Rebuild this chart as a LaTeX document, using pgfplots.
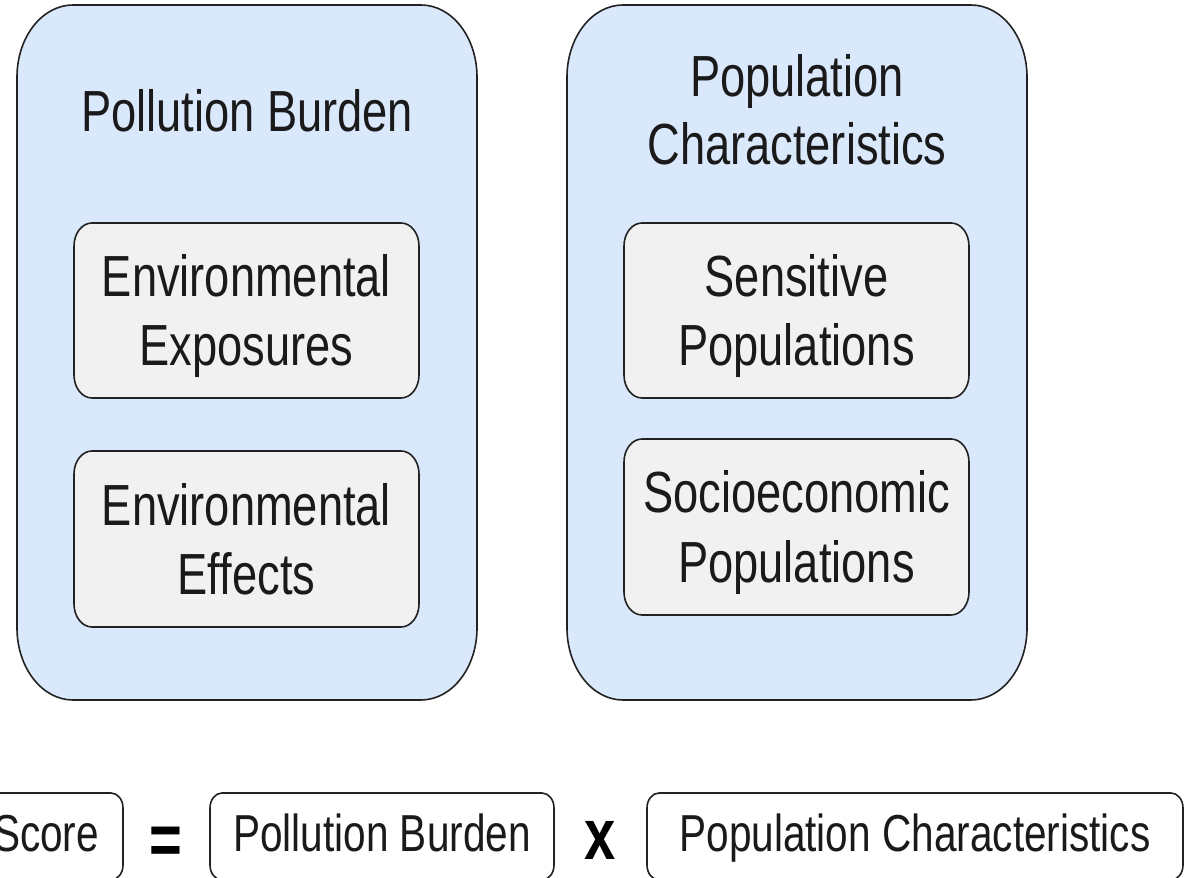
\documentclass[border=0pt]{standalone}
\usepackage{fontspec}
\setmainfont{Liberation Sans}[FakeStretch=0.78]
\usepackage{pgfplots}
\pgfplotsset{compat=1.18}
\definecolor{outerfill}{HTML}{DAE8FC}
\definecolor{innerfill}{HTML}{F1F1F1}
\definecolor{txt}{HTML}{1A1A1A}
\definecolor{edge}{HTML}{222222}
\tikzset{
  big/.style={anchor=base,inner sep=0pt,font=\fontsize{58}{70}\selectfont,text=txt},
  mid/.style={anchor=base,inner sep=0pt,font=\fontsize{52}{62}\selectfont,text=txt},
  op/.style={anchor=base,inner sep=0pt,font=\fontsize{72}{80}\selectfont\bfseries,text=black},
}
\begin{document}
\begin{tikzpicture}
\begin{axis}[width=1184pt,height=878pt,scale only axis,
  xmin=0,xmax=1184,ymin=0,ymax=878,hide axis,clip=true]
% outer boxes
\draw[edge,line width=1.6pt,fill=outerfill]
  (axis cs:73,873) -- (axis cs:421,873) arc[start angle=90,end angle=0,x radius=56pt,y radius=72pt]
  -- (axis cs:477,250) arc[start angle=0,end angle=-90,x radius=56pt,y radius=72pt]
  -- (axis cs:73,178) arc[start angle=-90,end angle=-180,x radius=56pt,y radius=72pt]
  -- (axis cs:17,801) arc[start angle=180,end angle=90,x radius=56pt,y radius=72pt] -- cycle;
\draw[edge,line width=1.6pt,fill=outerfill]
  (axis cs:623,873) -- (axis cs:971,873) arc[start angle=90,end angle=0,x radius=56pt,y radius=72pt]
  -- (axis cs:1027,250) arc[start angle=0,end angle=-90,x radius=56pt,y radius=72pt]
  -- (axis cs:623,178) arc[start angle=-90,end angle=-180,x radius=56pt,y radius=72pt]
  -- (axis cs:567,801) arc[start angle=180,end angle=90,x radius=56pt,y radius=72pt] -- cycle;
% inner boxes
\draw[edge,line width=1.6pt,fill=innerfill]
  (axis cs:92,655) -- (axis cs:401,655) arc[start angle=90,end angle=0,x radius=18pt,y radius=23pt]
  -- (axis cs:419,503) arc[start angle=0,end angle=-90,x radius=18pt,y radius=23pt]
  -- (axis cs:92,480) arc[start angle=-90,end angle=-180,x radius=18pt,y radius=23pt]
  -- (axis cs:74,632) arc[start angle=180,end angle=90,x radius=18pt,y radius=23pt] -- cycle;
\draw[edge,line width=1.6pt,fill=innerfill]
  (axis cs:92,427) -- (axis cs:401,427) arc[start angle=90,end angle=0,x radius=18pt,y radius=23pt]
  -- (axis cs:419,274) arc[start angle=0,end angle=-90,x radius=18pt,y radius=23pt]
  -- (axis cs:92,251) arc[start angle=-90,end angle=-180,x radius=18pt,y radius=23pt]
  -- (axis cs:74,404) arc[start angle=180,end angle=90,x radius=18pt,y radius=23pt] -- cycle;
\draw[edge,line width=1.6pt,fill=innerfill]
  (axis cs:642,655) -- (axis cs:951,655) arc[start angle=90,end angle=0,x radius=18pt,y radius=23pt]
  -- (axis cs:969,503) arc[start angle=0,end angle=-90,x radius=18pt,y radius=23pt]
  -- (axis cs:642,480) arc[start angle=-90,end angle=-180,x radius=18pt,y radius=23pt]
  -- (axis cs:624,632) arc[start angle=180,end angle=90,x radius=18pt,y radius=23pt] -- cycle;
\draw[edge,line width=1.6pt,fill=innerfill]
  (axis cs:642,439) -- (axis cs:951,439) arc[start angle=90,end angle=0,x radius=18pt,y radius=23pt]
  -- (axis cs:969,286) arc[start angle=0,end angle=-90,x radius=18pt,y radius=23pt]
  -- (axis cs:642,263) arc[start angle=-90,end angle=-180,x radius=18pt,y radius=23pt]
  -- (axis cs:624,416) arc[start angle=180,end angle=90,x radius=18pt,y radius=23pt] -- cycle;
% bottom boxes
\draw[edge,line width=1.6pt,fill=white]
  (axis cs:-19,85) -- (axis cs:111,85) arc[start angle=90,end angle=0,x radius=12pt,y radius=15pt]
  -- (axis cs:123,13) arc[start angle=0,end angle=-90,x radius=12pt,y radius=15pt]
  -- (axis cs:-19,-2) arc[start angle=-90,end angle=-180,x radius=12pt,y radius=15pt]
  -- (axis cs:-31,70) arc[start angle=180,end angle=90,x radius=12pt,y radius=15pt] -- cycle;
\draw[edge,line width=1.6pt,fill=white]
  (axis cs:222,85) -- (axis cs:542,85) arc[start angle=90,end angle=0,x radius=12pt,y radius=15pt]
  -- (axis cs:554,13) arc[start angle=0,end angle=-90,x radius=12pt,y radius=15pt]
  -- (axis cs:222,-2) arc[start angle=-90,end angle=-180,x radius=12pt,y radius=15pt]
  -- (axis cs:210,70) arc[start angle=180,end angle=90,x radius=12pt,y radius=15pt] -- cycle;
\draw[edge,line width=1.6pt,fill=white]
  (axis cs:659,85) -- (axis cs:1171,85) arc[start angle=90,end angle=0,x radius=12pt,y radius=15pt]
  -- (axis cs:1183,13) arc[start angle=0,end angle=-90,x radius=12pt,y radius=15pt]
  -- (axis cs:659,-2) arc[start angle=-90,end angle=-180,x radius=12pt,y radius=15pt]
  -- (axis cs:647,70) arc[start angle=180,end angle=90,x radius=12pt,y radius=15pt] -- cycle;
% texts
\node[big] at (axis cs:247,746) {Pollution Burden};
\node[big] at (axis cs:797,781) {Population};
\node[big] at (axis cs:797,713) {Characteristics};
\node[big] at (axis cs:246.5,581) {Environmental};
\node[big] at (axis cs:246.5,512) {Exposures};
\node[big] at (axis cs:246.5,352) {Environmental};
\node[big] at (axis cs:246.5,283) {Effects};
\node[big] at (axis cs:796.5,581) {Sensitive};
\node[big] at (axis cs:796.5,512) {Populations};
\node[big] at (axis cs:796.5,365) {Socioeconomic};
\node[big] at (axis cs:796.5,295) {Populations};
\node[mid] at (axis cs:46,26) {Score};
\node[mid] at (axis cs:382,26) {Pollution Burden};
\node[mid] at (axis cs:915,26) {Population Characteristics};
\node[op] at (axis cs:165.5,13) {=};
\node[op] at (axis cs:600.5,18) {x};
\end{axis}
\pgfresetboundingbox
\path[use as bounding box] (current axis.south west) rectangle (current axis.north east);
\end{tikzpicture}
\end{document}
